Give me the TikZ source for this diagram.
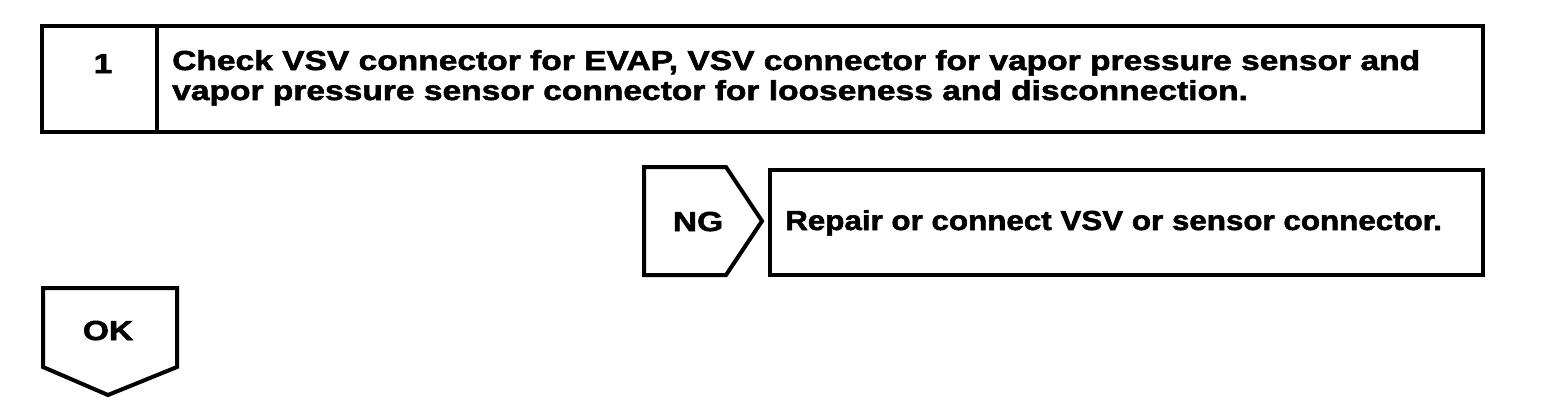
\documentclass[tikz,border=0pt]{standalone}
\usepackage{fontspec}
\setmainfont{Liberation Sans}[FakeStretch=1.22,FakeBold=2]
\newfontfamily\repairfont{Liberation Sans}[FakeStretch=1.14,FakeBold=2]
\begin{document}
\begin{tikzpicture}[x=1pt,y=-1pt,
  outline/.style={draw=black,line width=4pt,line join=miter},
  txt/.style={font=\bfseries\fontsize{27.5}{30}\selectfont,inner sep=0pt,align=left},
  smalltxt/.style={font=\repairfont\bfseries\fontsize{27.5}{30}\selectfont,inner sep=0pt}]
\useasboundingbox (0,0) rectangle (1568,408);
% top step box
\draw[outline] (42,26) rectangle (1483,132);
\draw[outline] (157,26) -- (157,132);
\node[txt,anchor=base] (num) at (103,73) {1};
\node[txt,anchor=base west] (step) at (172,100) {Check VSV connector for EVAP, VSV connector for vapor pressure sensor and\\vapor pressure sensor connector for looseness and disconnection.};
% NG tag
\draw[outline] (644,167) -- (726,167) -- (762,221) -- (726,275) -- (644,275) -- cycle;
\node[txt,anchor=base] (ng) at (698,231) {NG};
% repair box
\draw[outline] (770,170) rectangle (1483,275);
\node[smalltxt,anchor=base west] (repair) at (785,230) {Repair or connect VSV or sensor connector.};
% OK tag
\draw[outline] (43,288) -- (177,288) -- (177,367) -- (108,395) -- (43,367) -- cycle;
\node[txt,anchor=base] (ok) at (108,340) {OK};
\end{tikzpicture}
\end{document}
